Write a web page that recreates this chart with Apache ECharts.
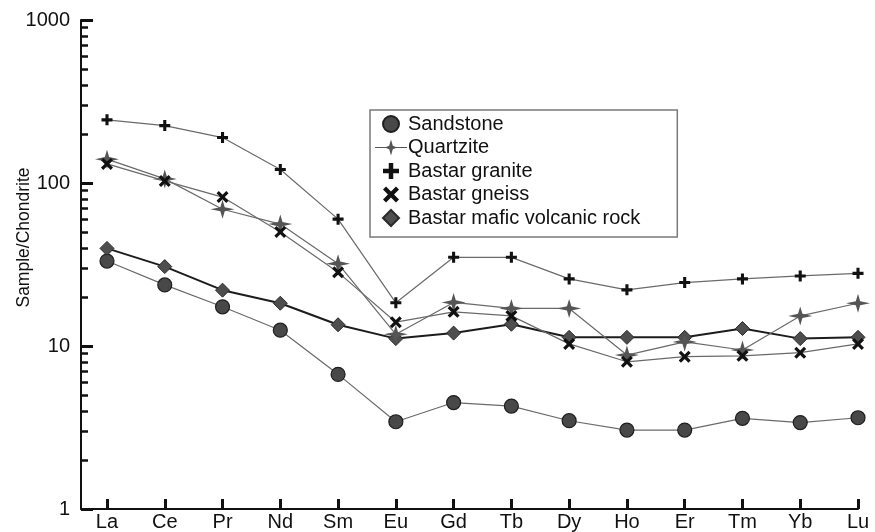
<!DOCTYPE html>
<html>
<head>
<meta charset="utf-8">
<script src="https://cdn.jsdelivr.net/npm/echarts@6/dist/echarts.min.js"></script>
<style>
    html, body { margin: 0; padding: 0; background: #fff; }
    #main { width: 875px; height: 532px; }
</style>
</head>
<body>
<div id="main"></div>
<script>
    // REE pattern, chondrite normalised
    const elements = ['La', 'Ce', 'Pr', 'Nd', 'Sm', 'Eu', 'Gd', 'Tb', 'Dy', 'Ho', 'Er', 'Tm', 'Yb', 'Lu'];

    const sandstone = [33.2, 23.7, 17.4, 12.5, 6.7, 3.43, 4.5, 4.28, 3.48, 3.05, 3.05, 3.6, 3.39, 3.63];
    const quartzite = [140, 106, 69, 56, 32, 11.8, 18.5, 17.0, 17.0, 8.8, 10.6, 9.45, 15.3, 18.3];
    const granite = [244, 225, 190, 121, 60, 18.4, 35, 35, 25.8, 22.1, 24.5, 25.8, 26.9, 27.9];
    const gneiss = [131, 103, 82, 50, 28.3, 14.0, 16.2, 15.3, 10.3, 8.0, 8.6, 8.7, 9.1, 10.3];
    const mafic = [39.7, 30.7, 22, 18.3, 13.5, 11.1, 12.0, 13.6, 11.3, 11.3, 11.3, 12.8, 11.1, 11.3];

    const majorTicks = [1, 10, 100, 1000];
    const minorTicks = [2, 3, 4, 5, 6, 7, 8, 9, 20, 30, 40, 50, 60, 70, 80, 90, 200, 300, 400, 500, 600, 700, 800, 900];
    const xTicks = [0, 1, 2, 3, 4, 5, 6, 7, 8, 9, 10, 11, 12, 13];

    const plusPath = 'path://M3.6,0H6.4V3.6H10V6.4H6.4V10H3.6V6.4H0V3.6H3.6Z';
    const crossPath = 'path://M0,1.9L1.9,0L5,3.1L8.1,0L10,1.9L6.9,5L10,8.1L8.1,10L5,6.9L1.9,10L0,8.1L3.1,5Z';
    const starPath = 'path://M0,-10L2.2,-2.2L12,0L2.2,2.2L0,10L-2.2,2.2L-12,0L-2.2,-2.2Z';
    const diamondPath = 'path://M5,0L10,5L5,10L0,5Z';
    // legend icon: star sitting on a short line
    const starLinePath = 'path://M-16,-0.6L-5,-0.6L-1.8,-1.8L0,-8L1.8,-1.8L5,-0.6L16,-0.6L16,0.6L5,0.6L1.8,1.8L0,8L-1.8,1.8L-5,0.6L-16,0.6Z';

    const font = 'Liberation Sans';

    const toPoints = arr => arr.map((v, i) => [i, v]);

    const thinLine = { color: '#6a6a6a', width: 1.2 };

    const chart = echarts.init(document.getElementById('main'));

    const option = {
        animation: false,
        backgroundColor: '#fff',
        textStyle: { fontFamily: font },
        grid: { left: 81, right: 17, top: 20, bottom: 23, containLabel: false, outerBoundsMode: 'none' },
        legend: {
            orient: 'vertical',
            left: 370,
            top: 110,
            padding: [4, 37, 9, 5],
            backgroundColor: '#fff',
            borderColor: '#7a7a7a',
            borderWidth: 1.5,
            itemWidth: 32,
            itemHeight: 16,
            itemGap: 3.5,
            textStyle: { fontFamily: font, fontSize: 20, color: '#111', lineHeight: 20, padding: [0, 0, 0, -4] },
            data: [
                { name: 'Sandstone', icon: 'circle' },
                { name: 'Quartzite', icon: starLinePath },
                { name: 'Bastar granite', icon: plusPath },
                { name: 'Bastar gneiss', icon: crossPath },
                { name: 'Bastar mafic volcanic rock', icon: diamondPath }
            ]
        },
        xAxis: {
            type: 'value',
            min: -0.45,
            max: 13,
            splitLine: { show: false },
            axisLine: { show: true, onZero: false, lineStyle: { color: '#111', width: 2 } },
            axisTick: {
                show: true,
                inside: true,
                length: 10,
                customValues: xTicks,
                lineStyle: { color: '#111', width: 3 }
            },
            axisLabel: {
                customValues: xTicks,
                formatter: v => elements[Math.round(v)] || '',
                fontFamily: font,
                fontSize: 20,
                color: '#111',
                margin: 3
            }
        },
        yAxis: [
            {
                type: 'log',
                logBase: 10,
                min: 1,
                max: 1000,
                offset: 0,
                name: 'Sample/Chondrite',
                nameLocation: 'middle',
                nameGap: 48,
                nameMoveOverlap: false,
                nameTextStyle: { fontFamily: font, fontSize: 17.5, color: '#111', padding: [0, 0, 0, 54] },
                splitLine: { show: false },
                axisLine: { show: true, onZero: false, lineStyle: { color: '#111', width: 2 } },
                axisTick: {
                    show: true,
                    inside: true,
                    length: 12,
                    customValues: majorTicks,
                    lineStyle: { color: '#111', width: 3 }
                },
                axisLabel: {
                    customValues: majorTicks,
                    formatter: v => String(v),
                    fontFamily: font,
                    fontSize: 20,
                    color: '#111',
                    margin: 11
                }
            },
            {
                type: 'log',
                logBase: 10,
                min: 1,
                max: 1000,
                position: 'left',
                offset: 0,
                splitLine: { show: false },
                axisLine: { show: false, onZero: false },
                axisLabel: { show: false },
                axisTick: {
                    show: true,
                    inside: true,
                    length: 7,
                    customValues: minorTicks,
                    lineStyle: { color: '#111', width: 2.5 }
                }
            }
        ],
        series: [
            {
                name: 'Sandstone',
                type: 'line',
                data: toPoints(sandstone),
                symbol: 'circle',
                symbolSize: 14,
                itemStyle: { color: '#484848', borderColor: '#1e1e1e', borderWidth: 1.2 },
                lineStyle: thinLine,
                z: 3
            },
            {
                name: 'Quartzite',
                type: 'line',
                data: toPoints(quartzite),
                symbol: starPath,
                symbolSize: [24, 19],
                itemStyle: { color: '#555', borderWidth: 0 },
                lineStyle: thinLine,
                z: 4
            },
            {
                name: 'Bastar granite',
                type: 'line',
                data: toPoints(granite),
                symbol: plusPath,
                symbolSize: 11,
                itemStyle: { color: '#111', borderWidth: 0 },
                lineStyle: thinLine,
                z: 5
            },
            {
                name: 'Bastar gneiss',
                type: 'line',
                data: toPoints(gneiss),
                symbol: crossPath,
                symbolSize: 12,
                itemStyle: { color: '#111', borderWidth: 0 },
                lineStyle: thinLine,
                z: 5
            },
            {
                name: 'Bastar mafic volcanic rock',
                type: 'line',
                data: toPoints(mafic),
                symbol: 'diamond',
                symbolSize: 14,
                itemStyle: { color: '#4e4e4e', borderColor: '#2a2a2a', borderWidth: 1 },
                lineStyle: { color: '#1c1c1c', width: 2 },
                z: 3
            }
        ]
    };

    chart.setOption(option);
</script>
</body>
</html>
